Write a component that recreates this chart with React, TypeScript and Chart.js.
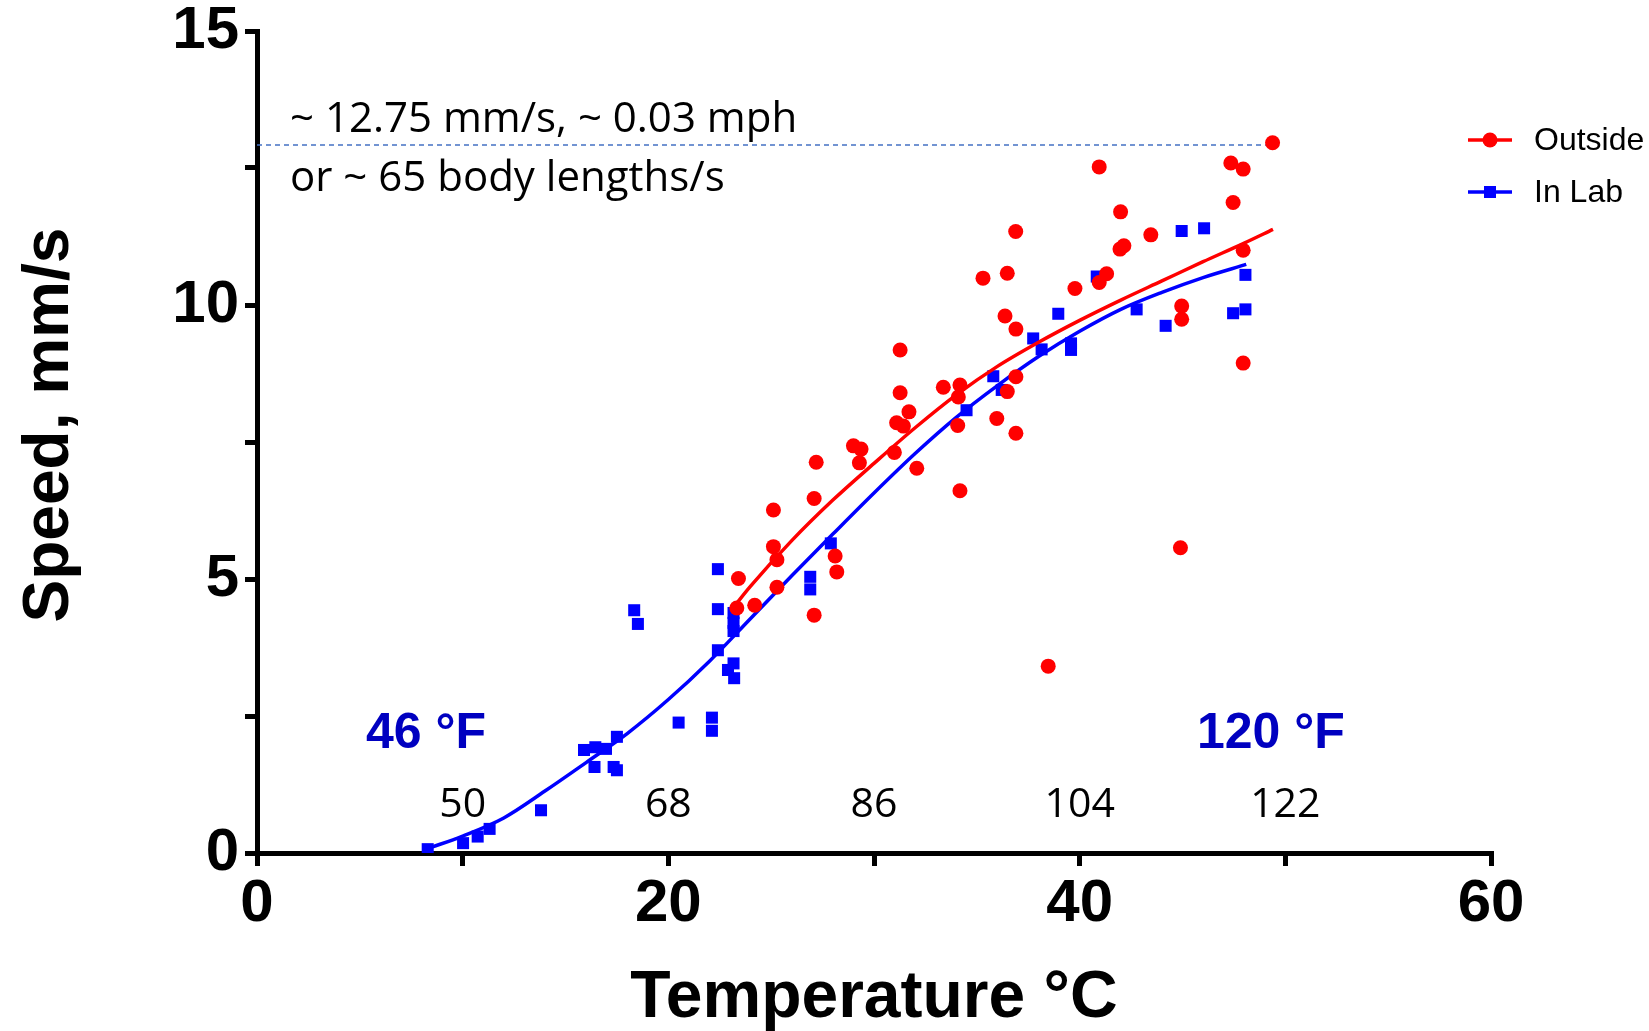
import React, { useEffect, useRef } from "react";
import { Chart, registerables } from "chart.js";

Chart.register(...registerables);

// ---- Data ----
const outsideTemp = [23.33, 23.41, 24.2, 25.11, 25.11, 25.28, 25.28, 27.19, 27.09, 27.09, 28.11, 28.19, 29.0, 29.37, 29.29, 31.27, 31.27, 31.7, 31.1, 31.43, 30.99, 32.08, 33.37, 34.18, 34.1, 34.07, 34.18, 35.3, 36.37, 36.9, 35.97, 36.48, 36.9, 36.9, 38.47, 36.89, 36.48, 39.77, 40.95, 41.31, 40.95, 41.99, 42.15, 41.96, 43.46, 44.96, 44.96, 44.9, 47.35, 47.95, 47.46, 47.95, 47.95, 49.38];
const outsideSpeed = [4.47, 5.01, 4.52, 6.26, 5.59, 5.35, 4.85, 7.13, 6.47, 4.34, 5.42, 5.13, 7.43, 7.37, 7.12, 9.18, 8.4, 8.05, 7.85, 7.79, 7.31, 7.02, 8.5, 8.54, 8.32, 7.8, 6.61, 10.49, 9.8, 9.56, 7.93, 8.42, 8.69, 7.66, 3.41, 11.34, 10.58, 10.3, 10.41, 10.57, 12.52, 11.7, 11.08, 11.02, 11.28, 9.98, 9.74, 5.57, 12.59, 12.48, 11.87, 11.0, 8.94, 12.96];

const labTemp = [8.3, 10.02, 10.73, 11.31, 13.81, 15.9, 16.45, 16.97, 17.5, 16.41, 17.34, 17.5, 18.34, 18.52, 20.5, 22.12, 22.12, 22.41, 22.41, 22.41, 23.17, 23.17, 23.17, 22.9, 23.17, 23.2, 26.9, 26.9, 27.9, 34.5, 35.8, 36.21, 37.74, 38.15, 38.96, 39.58, 39.58, 40.83, 42.77, 44.18, 44.96, 46.05, 47.46, 48.06, 48.06];
const labSpeed = [0.07, 0.18, 0.3, 0.44, 0.78, 1.88, 1.93, 1.9, 2.12, 1.57, 1.57, 1.51, 4.43, 4.18, 2.38, 2.47, 2.23, 5.18, 4.45, 3.7, 4.38, 4.2, 4.05, 3.34, 3.46, 3.19, 5.04, 4.81, 5.65, 8.08, 8.7, 8.45, 9.39, 9.19, 9.84, 9.3, 9.18, 10.52, 9.92, 9.62, 11.35, 11.4, 9.85, 9.92, 10.55];

const outsideFitTemp = [23.2, 24, 26, 28, 30, 32, 34, 36, 38, 40, 42, 44, 46, 48, 49.4];
const outsideFitSpeed = [4.5, 4.87, 5.7, 6.44, 7.11, 7.76, 8.36, 8.88, 9.32, 9.72, 10.09, 10.44, 10.79, 11.13, 11.38];

const labFitTemp = [8.3, 10, 12, 14, 16, 18, 20, 22, 24, 26, 28, 30, 32, 34, 36, 38, 40, 42, 44, 46, 48.1];
const labFitSpeed = [0.08, 0.31, 0.64, 1.13, 1.65, 2.18, 2.8, 3.5, 4.28, 5.06, 5.82, 6.57, 7.29, 7.95, 8.53, 9.06, 9.52, 9.92, 10.23, 10.5, 10.74];

const seriesNames = ["Outside", "In Lab"];
const fahrenheitAtCelsius = [10, 20, 30, 40, 50];
const fahrenheitLabels = ["50", "68", "86", "104", "122"];
const REF_SPEED = 12.92;
const REF_END_TEMP = 49.4;
const refLines = ["~ 12.75 mm/s, ~ 0.03 mph", "or ~ 65 body lengths/s"];
const rangeLabels = ["46 °F", "120 °F"];
const xTitle = "Temperature °C";
const yTitle = "Speed, mm/s";

const RED = "#FF0000";
const BLUE = "#0000FF";
const DARKBLUE = "#0000C0";

const toPts = (xs: number[], ys: number[]) => xs.map((x, i) => ({ x, y: ys[i] }));

const overlayPlugin = {
  id: "overlay",
  beforeDatasetsDraw(chart: any) {
    const { ctx, scales } = chart;
    const x = scales.x, y = scales.y;
    ctx.save();
    ctx.strokeStyle = "#4472C4";
    ctx.lineWidth = 1.5;
    ctx.setLineDash([5, 4]);
    ctx.beginPath();
    ctx.moveTo(x.getPixelForValue(0), y.getPixelForValue(REF_SPEED));
    ctx.lineTo(x.getPixelForValue(REF_END_TEMP), y.getPixelForValue(REF_SPEED));
    ctx.stroke();
    ctx.restore();
  },
  afterDraw(chart: any) {
    const { ctx, scales, chartArea } = chart;
    const x = scales.x;
    ctx.save();
    // Fahrenheit labels
    ctx.fillStyle = "#000";
    ctx.font = '41px "Open Sans"';
    ctx.textAlign = "center";
    ctx.textBaseline = "alphabetic";
    fahrenheitAtCelsius.forEach((c, i) => {
      ctx.fillText(fahrenheitLabels[i], x.getPixelForValue(c), 817);
    });
    // reference annotation
    ctx.textAlign = "left";
    ctx.font = '42px "Open Sans"';
    ctx.fillText(refLines[0], 290, 132);
    ctx.fillText(refLines[1], 290, 191);
    // range labels
    ctx.fillStyle = DARKBLUE;
    ctx.font = 'bold 50px "Liberation Sans"';
    ctx.fillText(rangeLabels[0], 366, 748);
    ctx.fillText(rangeLabels[1], 1197, 748);
    // axis titles
    ctx.fillStyle = "#000";
    ctx.font = 'bold 66px "Liberation Sans"';
    ctx.textAlign = "center";
    ctx.fillText(xTitle, (chartArea.left + chartArea.right) / 2, 1017);
    ctx.save();
    ctx.translate(68, 425);
    ctx.rotate(-Math.PI / 2);
    ctx.font = 'bold 64px "Liberation Sans"';
    ctx.fillText(yTitle, 0, 0);
    ctx.restore();
    // legend
    const legendY = [140, 192];
    const colors = [RED, BLUE];
    ctx.lineWidth = 3.5;
    legendY.forEach((ly, i) => {
      ctx.strokeStyle = colors[i];
      ctx.fillStyle = colors[i];
      ctx.beginPath();
      ctx.moveTo(1468, ly);
      ctx.lineTo(1512, ly);
      ctx.stroke();
      if (i === 0) {
        ctx.beginPath();
        ctx.arc(1490, ly, 7.5, 0, Math.PI * 2);
        ctx.fill();
      } else {
        ctx.fillRect(1484, ly - 6, 12, 12);
      }
      ctx.fillStyle = "#000";
      ctx.font = '32px "Liberation Sans"';
      ctx.textAlign = "left";
      ctx.textBaseline = "middle";
      ctx.fillText(seriesNames[i], 1534, ly + 1);
    });
    ctx.restore();
  },
};

export default function App() {
  const canvasRef = useRef<HTMLCanvasElement | null>(null);

  useEffect(() => {
    const canvas = canvasRef.current;
    if (!canvas) return;
    const chart = new Chart(canvas, {
      type: "scatter",
      data: {
        datasets: [
          {
            label: seriesNames[0] + " fit",
            type: "line",
            data: toPts(outsideFitTemp, outsideFitSpeed),
            borderColor: RED,
            borderWidth: 3.5,
            pointRadius: 0,
            cubicInterpolationMode: "monotone",
            fill: false,
            order: 1,
          },
          {
            label: seriesNames[0],
            data: toPts(outsideTemp, outsideSpeed),
            backgroundColor: RED,
            borderColor: RED,
            borderWidth: 0,
            pointRadius: 7.5,
            pointStyle: "circle",
            order: 2,
          },
          {
            label: seriesNames[1] + " fit",
            type: "line",
            data: toPts(labFitTemp, labFitSpeed),
            borderColor: BLUE,
            borderWidth: 3.5,
            pointRadius: 0,
            cubicInterpolationMode: "monotone",
            fill: false,
            order: 3,
          },
          {
            label: seriesNames[1],
            data: toPts(labTemp, labSpeed),
            backgroundColor: BLUE,
            borderColor: BLUE,
            borderWidth: 0,
            pointRadius: 8.5,
            pointStyle: "rect",
            order: 4,
          },
        ],
      } as any,
      options: {
        responsive: false,
        animation: false,
        events: [],
        layout: { padding: { top: 31, right: 158, left: 0, bottom: 0 } },
        plugins: { legend: { display: false }, tooltip: { enabled: false } },
        scales: {
          x: {
            type: "linear",
            min: 0,
            max: 60,
            afterFit: (s: any) => { s.height = 178; },
            border: { display: true, color: "#000", width: 5 },
            grid: {
              display: true,
              drawOnChartArea: false,
              drawTicks: true,
              tickLength: 13,
              tickWidth: 5,
              tickColor: "#000",
              color: "#000",
              lineWidth: 5,
            },
            ticks: {
              stepSize: 10,
              color: "#000",
              padding: 8,
              maxRotation: 0,
              autoSkip: false,
              font: { family: "Liberation Sans", weight: "bold", size: 60, lineHeight: 1 },
              callback: (v: any) => (Number(v) % 20 === 0 ? String(v) : ""),
            },
          },
          y: {
            type: "linear",
            min: 0,
            max: 15,
            afterFit: (s: any) => { s.width = 257; },
            border: { display: true, color: "#000", width: 5 },
            grid: {
              display: true,
              drawOnChartArea: false,
              drawTicks: true,
              tickLength: 12,
              tickWidth: 5,
              tickColor: "#000",
              color: "#000",
              lineWidth: 5,
            },
            ticks: {
              stepSize: 2.5,
              color: "#000",
              padding: 6,
              autoSkip: false,
              font: { family: "Liberation Sans", weight: "bold", size: 60, lineHeight: 0.7 },
              callback: (v: any) => (Number(v) % 5 === 0 ? String(v) : ""),
            },
          },
        },
      } as any,
      plugins: [overlayPlugin],
    });
    return () => chart.destroy();
  }, []);

  return (
    <div style={{ position: "absolute", left: 0, top: 0, width: 1649, height: 1031, background: "#fff" }}>
      <canvas ref={canvasRef} width={1649} height={1031} style={{ display: "block", width: 1649, height: 1031 }} />
    </div>
  );
}
